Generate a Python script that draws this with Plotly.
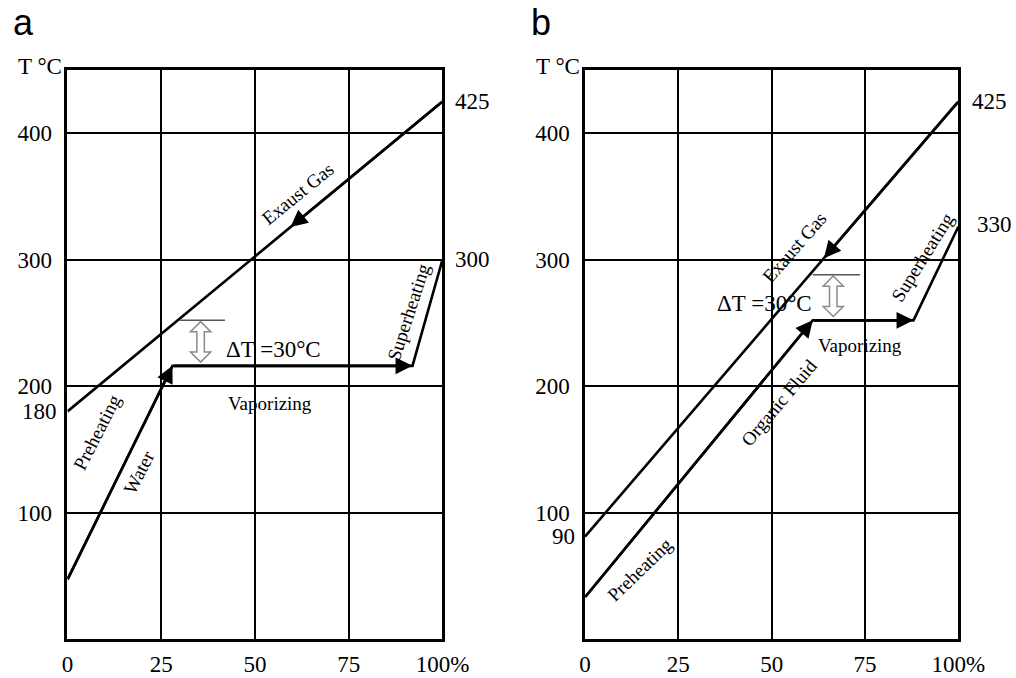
import numpy as np
import plotly.graph_objects as go

# ---------------- data ----------------
pct_ticks = [0, 25, 50, 75, 100]
pct_labels = ["0", "25", "50", "75", "100%"]
temp_ticks = [100, 200, 300, 400]
temp_labels = ["100", "200", "300", "400"]

# panel a : steam (water) cycle
gas_a_pct = [0, 100]
gas_a_T = [180, 425]
water_pct = [0, 28, 92, 100]
water_T = [47, 216, 216, 300]
gas_a_arrow_pct = 59.5
dT_a_pct = 35.5
dT_a_T = [219, 251]
dT_a_bar_pct = [30, 42]

# panel b : organic fluid cycle
gas_b_pct = [0, 100]
gas_b_T = [81, 425]
fluid_pct = [0, 61, 88, 100]
fluid_T = [33, 252, 252, 326]
gas_b_arrow_pct = 64
dT_b_pct = 66.5
dT_b_T = [255, 287]
dT_b_bar_pct = [61, 73.7]

# text labels: (text, pct, T, angle, size)
labels_a = [
    ("Exaust Gas", 61.5, 352, -39, 19),
    ("Superheating", 91, 259, -72, 19),
    ("ΔT =30°C", 55, 229, 0, 23),
    ("Vaporizing", 54, 186, 0, 19),
    ("Preheating", 8, 164, -63, 19),
    ("Water", 19, 132, -63, 19),
]
labels_b = [
    ("Exaust Gas", 56.0, 310, -49, 19),
    ("Superheating", 90.3, 302, -58, 19),
    ("ΔT =30°C", 48, 265, 0, 23),
    ("Vaporizing", 73.7, 232, 0, 19),
    ("Organic Fluid", 52, 187, -50, 19),
    ("Preheating", 14.7, 55, -44, 19),
]
left_extra_a = [("180", 180)]
left_extra_b = [("90", 81)]
right_labels_a = [("425", 425, 11), ("300", 300, 11)]
right_labels_b = [("425", 425, 12), ("330", 328, 17)]

# ---------------- figure ----------------
SERIF = "Liberation Serif, Times New Roman, serif"
fig = go.Figure()

LINE = dict(color="black", width=2.6)
fig.add_trace(go.Scatter(x=gas_a_pct, y=gas_a_T, mode="lines", line=LINE, xaxis="x", yaxis="y", hoverinfo="skip"))
fig.add_trace(go.Scatter(x=water_pct, y=water_T, mode="lines", line=LINE, xaxis="x", yaxis="y", hoverinfo="skip"))
fig.add_trace(go.Scatter(x=gas_b_pct, y=gas_b_T, mode="lines", line=LINE, xaxis="x2", yaxis="y2", hoverinfo="skip"))
fig.add_trace(go.Scatter(x=fluid_pct, y=fluid_T, mode="lines", line=LINE, xaxis="x2", yaxis="y2", hoverinfo="skip"))

annotations = []


def arrow(xr, yr, tip, tail):
    annotations.append(dict(
        x=tip[0], y=tip[1], ax=tail[0], ay=tail[1], xref=xr, yref=yr,
        axref=xr, ayref=yr, text="", showarrow=True, arrowhead=2,
        arrowsize=1.3, arrowwidth=2.6, arrowcolor="black"))


# arrows along the fluid paths
for xr, yr, px, py in [("x", "y", water_pct, water_T), ("x2", "y2", fluid_pct, fluid_T)]:
    arrow(xr, yr, (px[1], py[1]), (px[0], py[0]))
    arrow(xr, yr, (px[2], py[2]), (px[1], py[1]))

# arrows on the exhaust gas lines (pointing downwards)
for xr, yr, gx, gy, ap in [("x", "y", gas_a_pct, gas_a_T, gas_a_arrow_pct),
                           ("x2", "y2", gas_b_pct, gas_b_T, gas_b_arrow_pct)]:
    arrow(xr, yr, (ap, float(np.interp(ap, gx, gy))), (gx[1], gy[1]))

# text labels
for xr, yr, labs in [("x", "y", labels_a), ("x2", "y2", labels_b)]:
    for txt, px, py, ang, sz in labs:
        annotations.append(dict(x=px, y=py, xref=xr, yref=yr, text=txt, showarrow=False,
                                textangle=ang, font=dict(family=SERIF, size=sz, color="black")))

# extra left labels
for xr, yr, labs in [("x", "y", left_extra_a), ("x2", "y2", left_extra_b)]:
    for txt, val in labs:
        annotations.append(dict(x=0, y=val, xref=xr, yref=yr, text=txt, showarrow=False,
                                xanchor="right", xshift=-8,
                                font=dict(family=SERIF, size=23, color="black")))

# right labels
for xr, yr, labs in [("x", "y", right_labels_a), ("x2", "y2", right_labels_b)]:
    for txt, val, sh in labs:
        annotations.append(dict(x=100, y=val, xref=xr, yref=yr, text=txt, showarrow=False,
                                xanchor="left", xshift=sh,
                                font=dict(family=SERIF, size=23, color="black")))

# axis titles "T °C" and panel letters
for xr, yr, letter in [("x", "y", "a"), ("x2", "y2", "b")]:
    annotations.append(dict(x=0, y=450, xref=xr, yref=yr, text="T °C", showarrow=False,
                            xanchor="right", xshift=-3, yshift=3,
                            font=dict(family=SERIF, size=23, color="black")))
    annotations.append(dict(x=0, y=1 - 20 / 678, xref=xr, yref="paper", text=letter,
                            showarrow=False, xanchor="left", yanchor="middle", xshift=-56, yshift=-3,
                            font=dict(family="Liberation Sans, Arial, sans-serif", size=36, color="black")))

shapes = []
# hollow double-headed ΔT arrows
HW, SW, HL = 2.7, 1.0, 8.0
for xr, yr, cx, (lo, hi), (b0, b1) in [("x", "y", dT_a_pct, dT_a_T, dT_a_bar_pct),
                                        ("x2", "y2", dT_b_pct, dT_b_T, dT_b_bar_pct)]:
    pts = [(cx, hi), (cx + HW, hi - HL), (cx + SW, hi - HL), (cx + SW, lo + HL), (cx + HW, lo + HL),
           (cx, lo), (cx - HW, lo + HL), (cx - SW, lo + HL), (cx - SW, hi - HL), (cx - HW, hi - HL)]
    path = "M " + " L ".join(f"{p[0]},{p[1]}" for p in pts) + " Z"
    shapes.append(dict(type="path", path=path, xref=xr, yref=yr, fillcolor="white",
                       line=dict(color="#8a8a8a", width=1.5)))
    shapes.append(dict(type="line", x0=b0, x1=b1, y0=hi + 1, y1=hi + 1, xref=xr, yref=yr,
                       line=dict(color="#555555", width=1.5)))

xax = dict(range=[0, 100], tickvals=pct_ticks, ticktext=pct_labels, showgrid=True,
           gridcolor="black", gridwidth=2, showline=True, linecolor="black", linewidth=2.5,
           mirror=True, zeroline=False, ticks="", ticklabelstandoff=3, automargin=False,
           tickfont=dict(family=SERIF, size=23, color="black"), fixedrange=True)
yax = dict(range=[0, 450], tickvals=temp_ticks, ticktext=temp_labels, showgrid=True,
           gridcolor="black", gridwidth=2, showline=True, linecolor="black", linewidth=2.5,
           mirror=True, zeroline=False, ticks="", ticklabelstandoff=8, automargin=False,
           tickfont=dict(family=SERIF, size=23, color="black"), fixedrange=True,
           domain=[0.0575, 0.8968])

fig.update_layout(
    width=1016, height=678, margin=dict(l=0, r=0, t=0, b=0, autoexpand=False),
    paper_bgcolor="white", plot_bgcolor="white", showlegend=False,
    xaxis=dict(xax, domain=[0.0664, 0.4355], anchor="y"),
    yaxis=dict(yax, anchor="x"),
    xaxis2=dict(xax, domain=[0.5758, 0.9432], anchor="y2"),
    yaxis2=dict(yax, anchor="x2"),
    annotations=annotations, shapes=shapes,
)

fig.write_html("out.html")
